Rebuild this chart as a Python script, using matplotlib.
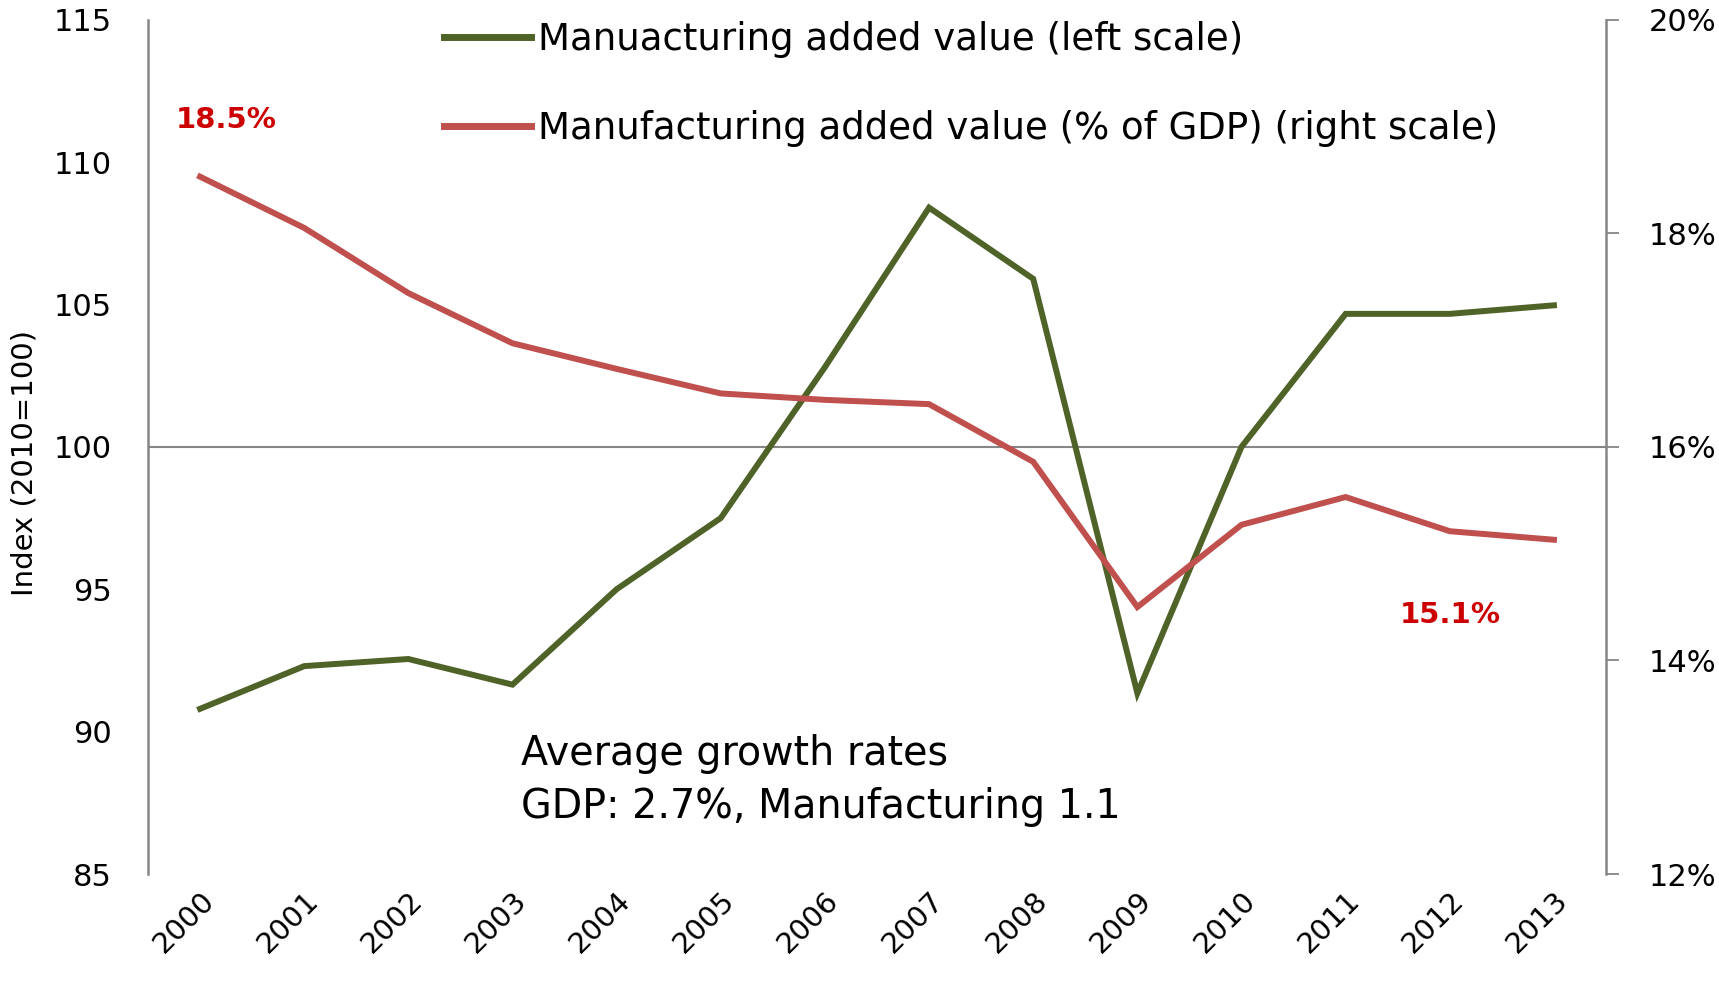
import matplotlib
matplotlib.use("Agg")
import matplotlib.pyplot as plt
from matplotlib.lines import Line2D

years = ["2000", "2001", "2002", "2003", "2004", "2005", "2006",
         "2007", "2008", "2009", "2010", "2011", "2012", "2013"]
mfg_index = [90.8, 92.3, 92.55, 91.65, 95.0, 97.5, 102.8,
             108.4, 105.9, 91.35, 100.0, 104.67, 104.67, 104.97]
mfg_share = [18.53, 18.05, 17.44, 16.97, 16.73, 16.5, 16.44,
             16.4, 15.86, 14.5, 15.27, 15.53, 15.21, 15.13]
left_ticks = [85, 90, 95, 100, 105, 110, 115]
right_ticks = [12, 14, 16, 18, 20]
legend_labels = ["Manuacturing added value (left scale)",
                 "Manufacturing added value (% of GDP) (right scale)"]
note_text = "Average growth rates\nGDP: 2.7%, Manufacturing 1.1"
start_label = "18.5%"
end_label = "15.1%"

GREEN = "#4F6228"
RED = "#C0504D"
LABEL_RED = "#CC0000"
GREY = "#868686"

plt.rcParams['font.family'] = ['DejaVu Sans']

fig = plt.figure(figsize=(17.19, 9.83), dpi=100)
ax = fig.add_axes([148 / 1719, 1 - 874 / 983, (1606 - 148) / 1719, (874 - 19.7) / 983])
ax2 = ax.twinx()

x = list(range(len(years)))
ax.plot(x, mfg_index, color=GREEN, lw=4.3, solid_joinstyle='miter', zorder=3)
ax2.plot(x, mfg_share, color=RED, lw=4.3, solid_joinstyle='miter', zorder=3)

ax.set_xlim(-0.5, len(years) - 0.5)
ax.set_ylim(85, 115)
ax2.set_ylim(12, 20)

ax.axhline(100, color=GREY, lw=1.5, zorder=1)

for a in (ax, ax2):
    for s in ("top", "bottom"):
        a.spines[s].set_visible(False)
ax.spines["right"].set_visible(False)
ax.spines["left"].set_color(GREY)
ax.spines["left"].set_linewidth(1.8)
ax2.spines["left"].set_visible(False)
ax2.spines["right"].set_color(GREY)
ax2.spines["right"].set_linewidth(1.8)

ax.set_yticks(left_ticks)
ax.set_yticklabels([str(t) for t in left_ticks])
ax.tick_params(axis='y', length=0, pad=26, labelsize=22)

ax2.set_yticks(right_ticks)
ax2.set_yticklabels([f"{t}%" for t in right_ticks])
ax2.tick_params(axis='y', length=9.5, width=1.3, color=GREY, pad=21, labelsize=22)

ax.set_xticks(x)
ax.set_xticklabels(years, rotation=45, ha='right', va='top', rotation_mode='anchor', fontsize=21)
ax.tick_params(axis='x', length=0, pad=9)

ax.set_ylabel("Index (2010=100)", fontsize=21)
ax.yaxis.set_label_coords(-0.0754, 0.481)

ax2.text(0.25, 19.06, start_label, color=LABEL_RED, fontsize=21,
         fontweight='bold', ha='center', va='center')
ax2.text(12.0, 14.43, end_label, color=LABEL_RED, fontsize=21,
         fontweight='bold', ha='center', va='center')

ax.text(3.08, 88.28, note_text, fontsize=28.5, ha='left', va='center',
        linespacing=1.4, color='black')

handles = [Line2D([0], [0], color=GREEN, lw=5),
           Line2D([0], [0], color=RED, lw=5)]
fig.legend(handles, legend_labels, loc='upper left',
           bbox_to_anchor=(444 / 1719, 1 - 21 / 983), frameon=False,
           fontsize=26.7, handlelength=2.34, handletextpad=0.19,
           labelspacing=1.4, borderaxespad=0, borderpad=0)

fig.savefig("out.png", dpi=100)
